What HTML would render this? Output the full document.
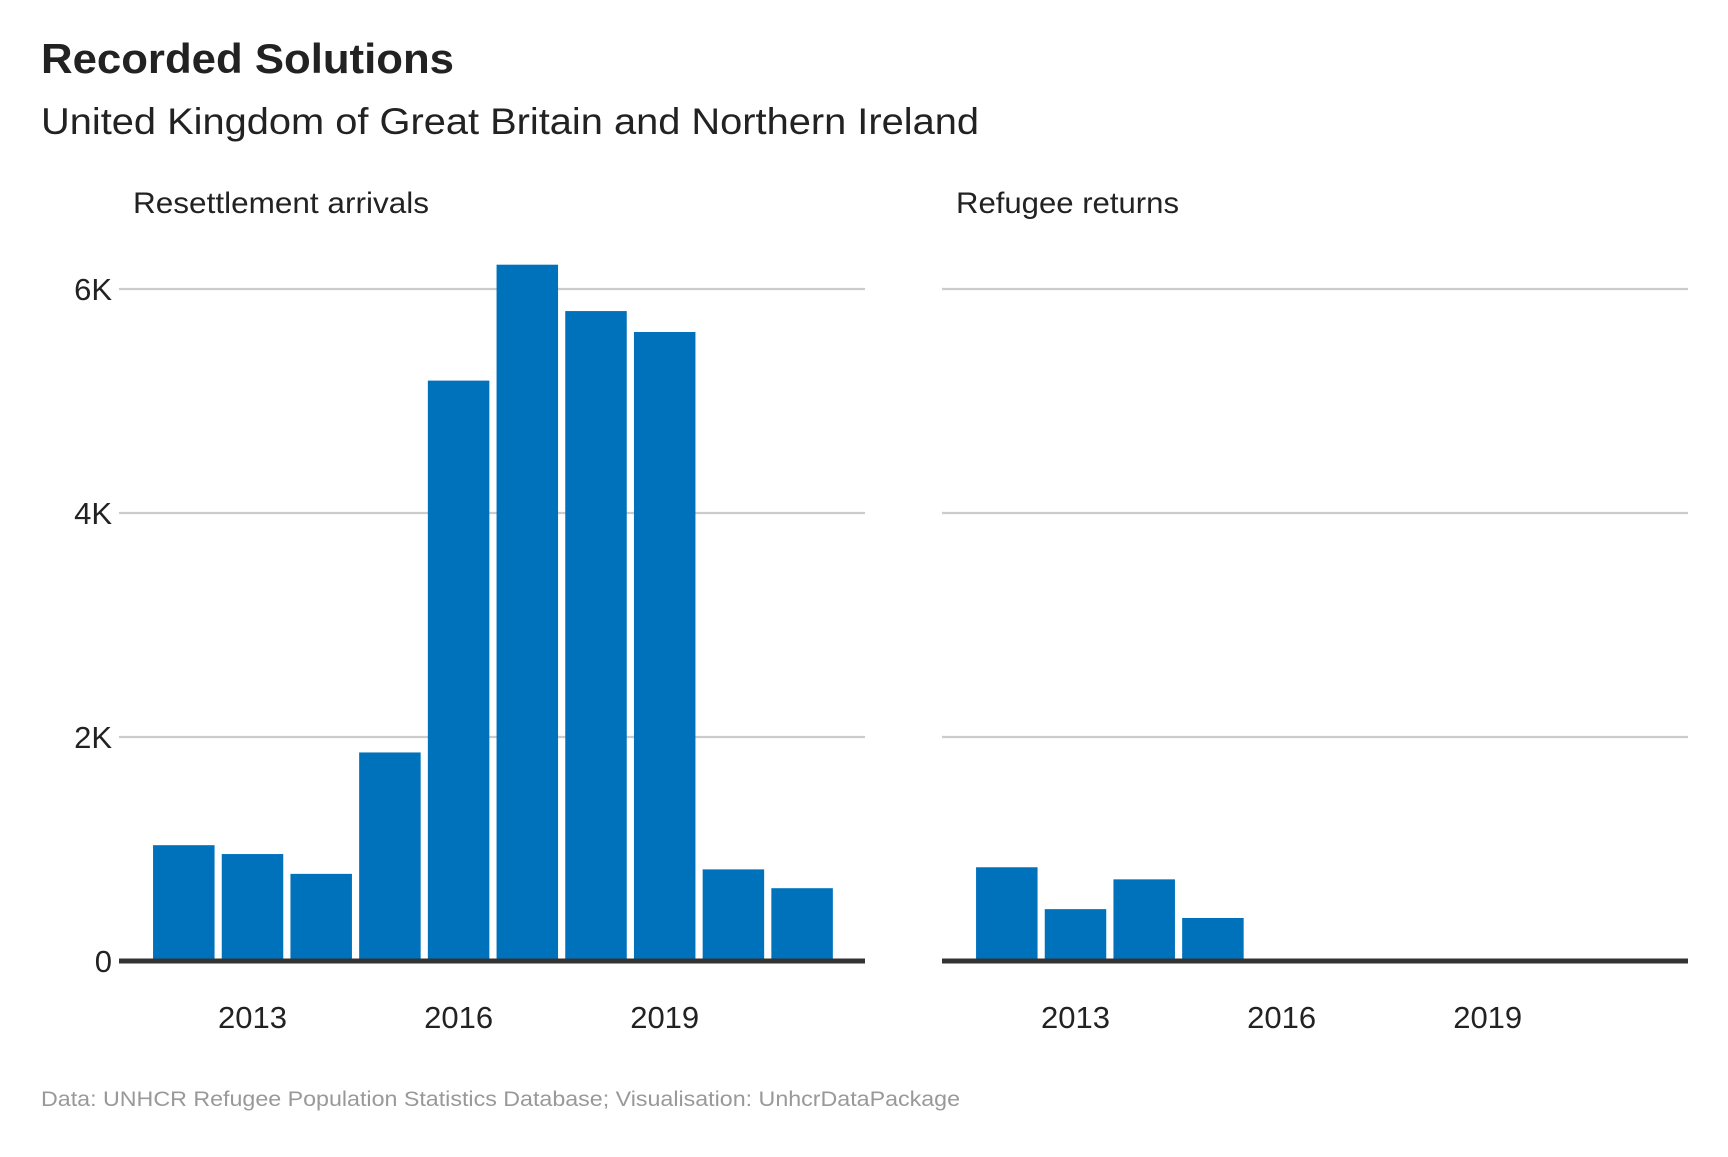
<!DOCTYPE html>
<html><head><meta charset="utf-8"><style>
html,body{margin:0;padding:0;background:#fff;}
svg text{font-family:"Liberation Sans",sans-serif;}
</style></head><body>
<svg id="chart" width="1728" height="1152" viewBox="0 0 1728 1152" xmlns="http://www.w3.org/2000/svg">
<text x="41" y="73" font-size="42" font-weight="bold" fill="#222" textLength="413" lengthAdjust="spacingAndGlyphs">Recorded Solutions</text>
<text x="41" y="134" font-size="37" fill="#222" textLength="938" lengthAdjust="spacingAndGlyphs">United Kingdom of Great Britain and Northern Ireland</text>
<text x="41" y="1106" font-size="21" fill="#999" textLength="919" lengthAdjust="spacingAndGlyphs">Data: UNHCR Refugee Population Statistics Database; Visualisation: UnhcrDataPackage</text>
<g id="plots"></g>
</svg>
<script>
const years = [2012,2013,2014,2015,2016,2017,2018,2019,2020,2021];
const resettlementValues = [1034,955,778,1862,5182,6217,5803,5616,818,650];
const returnsValues = [837,463,729,384,0,0,0,0,0,0];
const yTicks = [0,2000,4000,6000];
const yTickLabels = ["0","2K","4K","6K"];
const xTicks = [2013,2016,2019];
const xTickLabels = ["2013","2016","2019"];
const panelTitles = ["Resettlement arrivals","Refugee returns"];

const NS="http://www.w3.org/2000/svg";
const g=document.getElementById('plots');
const y0=961, pxPerUnit=224/2000;
function yScale(v){return y0 - v*pxPerUnit;}
function mk(tag,attrs){const e=document.createElementNS(NS,tag);for(const k in attrs)e.setAttribute(k,attrs[k]);return e;}
const panels=[{left:119,right:865,vals:resettlementValues,key:'resettlement',tl:296},{left:942,right:1688,vals:returnsValues,key:'returns',tl:223}];
const step=68.7, bw=61.5;
panels.forEach((p,pi)=>{
  const xScale=yr=>p.left+64.8+(yr-2012)*step;
  const t=mk('text',{x:p.left+14,y:213,'font-size':30,fill:'#222',textLength:p.tl,lengthAdjust:'spacingAndGlyphs'});
  t.textContent=panelTitles[pi];
  
  
  g.appendChild(t);
  yTicks.forEach((v,i)=>{
    if(v>0){
      const l=mk('line',{x1:p.left,x2:p.right,y1:yScale(v),y2:yScale(v),stroke:'#cccccc','stroke-width':2.2});
      
      
      g.appendChild(l);
    }
    if(pi===0){
      const tl=mk('text',{x:112,y:yScale(v)+11,'font-size':31,fill:'#222','text-anchor':'end'});
      tl.textContent=yTickLabels[i];
      
      
      g.appendChild(tl);
    }
  });
  years.forEach((yr,i)=>{
    const v=p.vals[i];
    if(v<=0) return;
    const r=mk('rect',{x:xScale(yr)-bw/2,y:yScale(v),width:bw,height:y0-yScale(v),fill:'#0072BC'});
    
    
    g.appendChild(r);
  });
  const base=mk('line',{x1:p.left,x2:p.right,y1:y0,y2:y0,stroke:'#333','stroke-width':5});
  
  
  g.appendChild(base);
  xTicks.forEach((yr,i)=>{
    const xl=mk('text',{x:xScale(yr),y:1028,'font-size':31,fill:'#222','text-anchor':'middle'});
    xl.textContent=xTickLabels[i];
    
    
    g.appendChild(xl);
  });
});
</script>
</body></html>
